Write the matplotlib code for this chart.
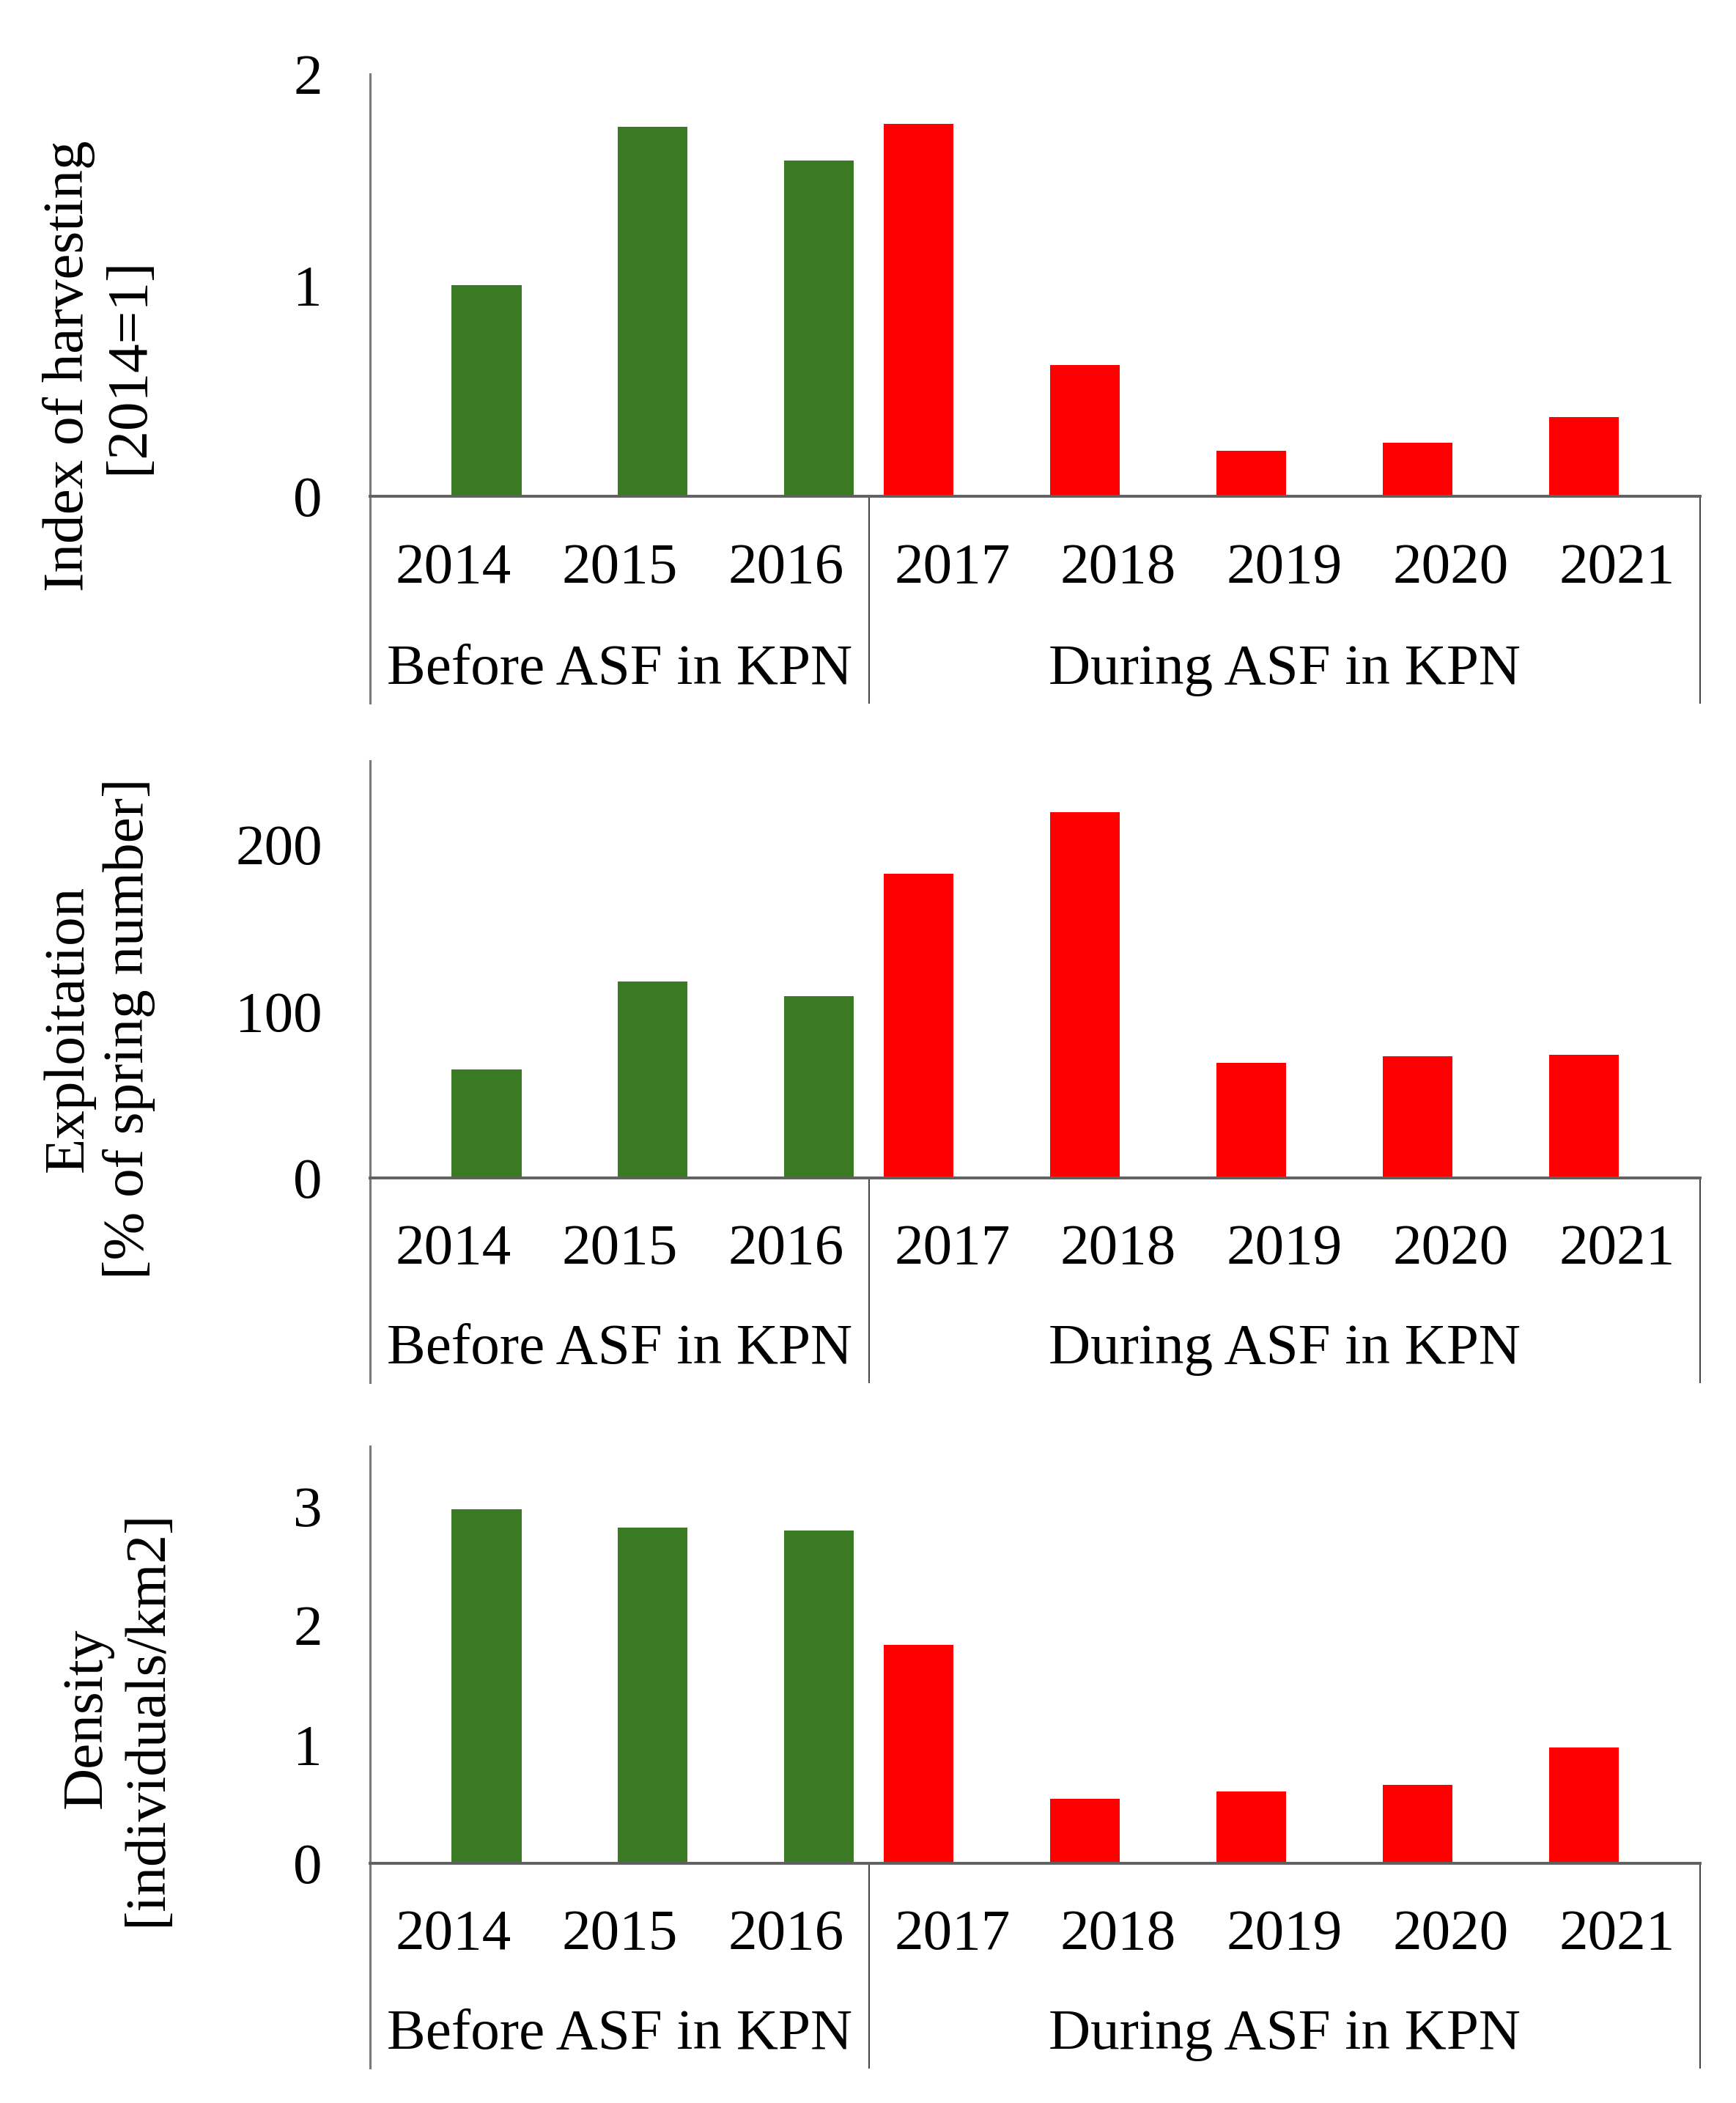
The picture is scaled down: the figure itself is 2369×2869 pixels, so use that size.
import numpy as np
import matplotlib
matplotlib.use("Agg")
from matplotlib import pyplot as plt

plt.rcParams['font.family'] = ['Liberation Serif', 'DejaVu Serif']

years = ["2014", "2015", "2016", "2017", "2018", "2019", "2020", "2021"]
groups = ["Before ASF in KPN", "During ASF in KPN"]
n_before = 3

harvest_index = [1.0, 1.75, 1.59, 1.765, 0.62, 0.215, 0.255, 0.375]
exploitation = [64.8, 117.6, 108.8, 182.4, 219.2, 68.8, 72.8, 73.6]
density = [2.97, 2.82, 2.79, 1.83, 0.54, 0.60, 0.66, 0.97]

ylabels = ["Index of harvesting\n[2014=1]",
           "Exploitation\n[% of spring number]",
           "Density\n[individuals/km2]"]
yticks = [[0, 1, 2], [0, 100, 200], [0, 1, 2, 3]]
ylims = [2, 250, 3.5]

green = "#3a7a23"
red = "#ff0000"
fs = 57

fig = plt.figure(figsize=(23.69, 28.69), dpi=100)

# axes boxes (left, bottom, width, height) in figure fraction
boxes = [[0.2132, 0.7640, 0.7662, 0.2008],
         [0.2132, 0.4399, 0.7662, 0.1983],
         [0.2132, 0.1140, 0.7662, 0.1983]]
label_pos = [(0.057, 0.826), (0.057, 0.511), (0.0675, 0.183)]

x = np.arange(len(years))
w = 0.42
for i, vals in enumerate([harvest_index, exploitation, density]):
    ax = fig.add_axes(boxes[i])
    vals = np.array(vals)
    ax.bar(x[:n_before] + 0.2, vals[:n_before], w, color=green, zorder=1)
    ax.bar(x[n_before:] - 0.2, vals[n_before:], w, color=red, zorder=1)
    ax.set_xlim(-0.5, 7.5)
    ax.set_ylim(0, ylims[i])
    ax.set_yticks(yticks[i])
    ax.tick_params(axis='y', length=0, pad=47, labelsize=fs)
    ax.set_xticks([])
    for s in ["top", "right"]:
        ax.spines[s].set_visible(False)
    ax.spines["left"].set_color("#7a7a7a")
    ax.spines["left"].set_linewidth(2.2)
    ax.spines["bottom"].set_color("#606060")
    ax.spines["bottom"].set_linewidth(2.8)
    ax.spines["bottom"].set_zorder(3)

    trans = ax.get_xaxis_transform()
    # year labels and group labels under the axis
    for j, yr in enumerate(years):
        ax.text(x[j], -0.172, yr, transform=trans, ha='center', va='center', fontsize=fs)
    ax.text((-0.5 + 2.5) / 2, -0.412, groups[0], transform=trans, ha='center', va='center', fontsize=fs)
    ax.text((2.5 + 7.5) / 2, -0.412, groups[1], transform=trans, ha='center', va='center', fontsize=fs)
    ax.plot([-0.5, -0.5], [0, -0.49], transform=trans, color="#7a7a7a", lw=2.2, clip_on=False)
    ax.plot([2.5, 2.5], [0, -0.49], transform=trans, color="#404040", lw=1.4, clip_on=False)
    ax.plot([7.5, 7.5], [0, -0.49], transform=trans, color="#404040", lw=1.4, clip_on=False)

    fig.text(label_pos[i][0], label_pos[i][1], ylabels[i], rotation=90, ha='center', va='center',
             multialignment='center', fontsize=fs, linespacing=1.2)

fig.savefig("out.png", dpi=100, facecolor="white")
